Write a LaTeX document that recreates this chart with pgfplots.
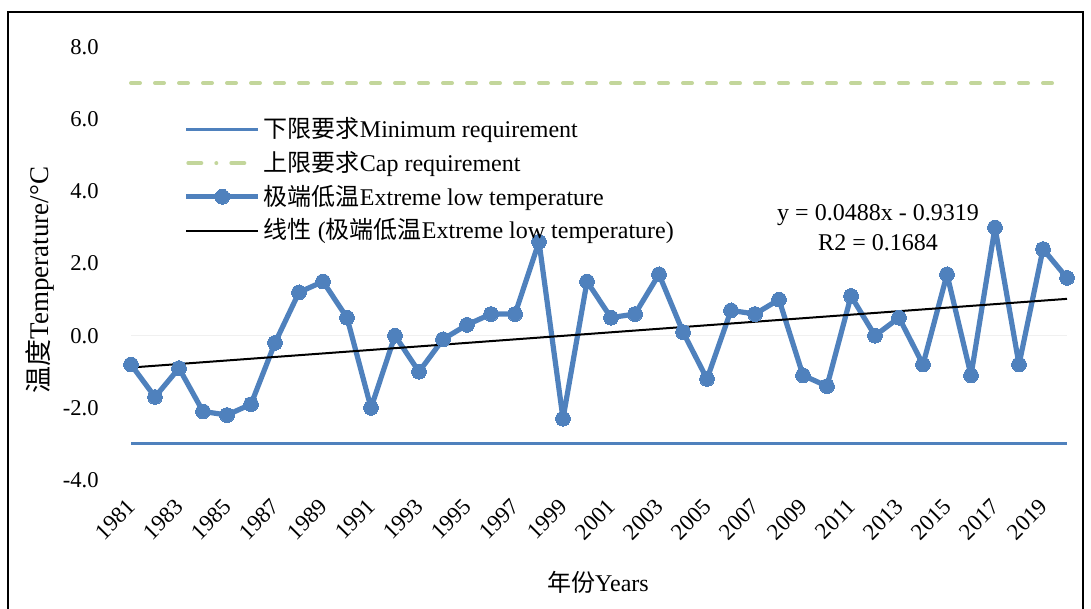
\documentclass[border=0pt]{standalone}
\usepackage{fontspec}
\setmainfont{Liberation Serif}
\newfontfamily\cjk{Noto Sans CJK SC}
\usepackage{pgfplots}
\pgfplotsset{compat=1.18}
\definecolor{lineblue}{RGB}{79,129,189}
\definecolor{capgreen}{RGB}{195,214,155}
\pgfplotstableread{
x y
1 -0.8
2 -1.7
3 -0.9
4 -2.1
5 -2.2
6 -1.9
7 -0.2
8 1.2
9 1.5
10 0.5
11 -2.0
12 0.0
13 -1.0
14 -0.1
15 0.3
16 0.6
17 0.6
18 2.6
19 -2.3
20 1.5
21 0.5
22 0.6
23 1.7
24 0.1
25 -1.2
26 0.7
27 0.6
28 1.0
29 -1.1
30 -1.4
31 1.1
32 0.0
33 0.5
34 -0.8
35 1.7
36 -1.1
37 3.0
38 -0.8
39 2.4
40 1.6
}\datatable
\begin{document}
\fontsize{12}{14}\selectfont
\begin{tikzpicture}[x=0.5pt,y=0.5pt]
\path[use as bounding box] (0,0) rectangle (1091,609);
\draw[line width=1pt] (8,-2) -- (8,597) -- (1083,597) -- (1083,-2);
\begin{axis}[
  at={(59.5pt,64.5pt)}, anchor=south west, scale only axis,
  width=480pt, height=216.5pt,
  xmin=0.5, xmax=40.5, ymin=-4, ymax=8,
  axis line style={draw=none}, major tick length=0pt,
  ytick={-4,-2,0,2,4,6,8},
  yticklabels={-4.0,-2.0,0.0,2.0,4.0,6.0,8.0},
  yticklabel style={font=\fontsize{11.3}{13}\selectfont, xshift=-6pt},
  xtick={1,3,...,39},
  xticklabels={1981,1983,1985,1987,1989,1991,1993,1995,1997,1999,2001,2003,2005,2007,2009,2011,2013,2015,2017,2019},
  xticklabel style={font=\fontsize{11.5}{13}\selectfont, xshift=-2.5pt, yshift=-2.9pt, rotate=45, anchor=north east},
  clip=false,
  legend cell align=left,
  legend style={at={(0.067,0.845)}, anchor=north west, draw=none, fill=none,
     font=\fontsize{12}{14}\selectfont, row sep=2pt, inner sep=0pt,
     nodes={inner sep=1.5pt}},
  legend image code/.code={\draw[mark repeat=2,mark phase=2,#1] plot coordinates {(0pt,0pt) (18pt,0pt) (36pt,0pt)};},
]
\addplot[black!6, line width=0.5pt, forget plot] coordinates {(1,0) (40,0)};
\addplot[lineblue, line width=1.5pt] coordinates {(1,-3) (40,-3)};
\addlegendentry{{\cjk 下限要求}Minimum requirement}
\addplot[capgreen, line width=2pt, line cap=round, dash pattern=on 4.5pt off 7.5pt,
  legend image code/.code={\draw[capgreen, line width=2pt, line cap=round, dash pattern=on 6.5pt off 7.5pt on 0pt off 7.5pt] (1pt,0pt) -- (29pt,0pt);}]
  coordinates {(1,7) (40,7)};
\addlegendentry{{\cjk 上限要求}Cap requirement}
\addplot[lineblue, line width=2.6pt, line join=round, mark=*, mark size=3.7pt, mark options={solid, fill=lineblue, draw=lineblue, line width=0pt}] table[x=x,y=y] {\datatable};
\addlegendentry{{\cjk 极端低温}Extreme low temperature}
\addplot[black, line width=1pt] coordinates {(1,-0.8831) (40,1.0201)};
\addlegendentry{{\cjk 线性} ({\cjk 极端低温}Extreme low temperature)}
\end{axis}
\node at (878,609-215) {y = 0.0488x - 0.9319};
\node at (878,609-243) {R2 = 0.1684};
\node[rotate=90, font=\fontsize{13.5}{15}\selectfont] at (40,609-280) {{\cjk 温度}Temperature/°C};
\node at (598,609-582) {{\cjk 年份}Years};
\end{tikzpicture}
\end{document}
